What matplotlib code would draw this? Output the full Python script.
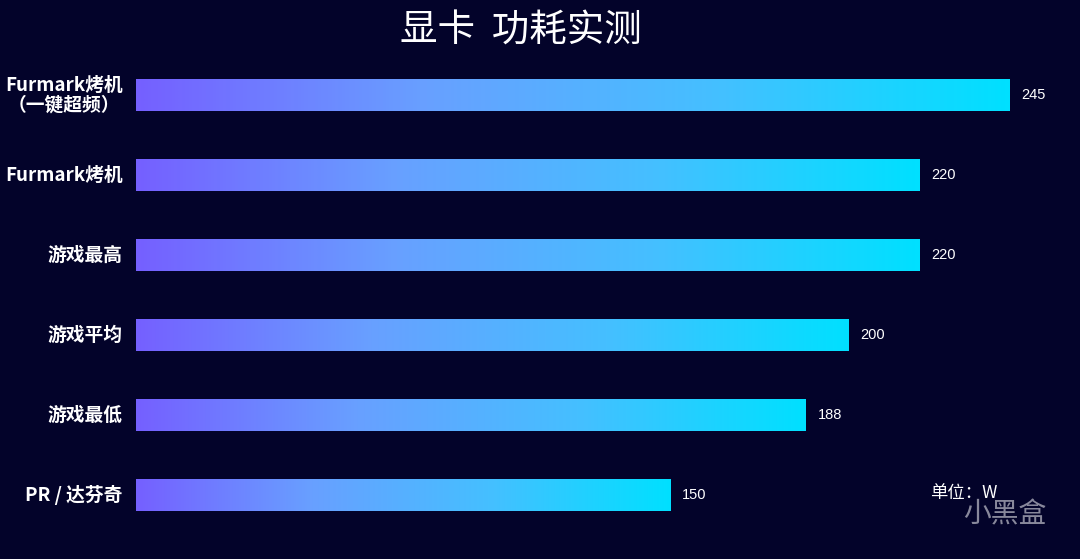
import numpy as np
import matplotlib.pyplot as plt
from matplotlib.colors import LinearSegmentedColormap

# dados
categorias = ['Furmark烤机\n（一键超频）', 'Furmark烤机', '游戏最高', '游戏平均', '游戏最低', 'PR / 达芬奇']
valores = [245, 220, 220, 200, 188, 150]
titulo = '显卡  功耗实测'
unidade = '单位：W'

fundo = '#03032a'
cmap = LinearSegmentedColormap.from_list(
    'grad', [(0, '#7560ff'), (0.33, '#68a0ff'), (0.67, '#44c0ff'), (1, '#00e0ff')])

plt.rcParams['font.family'] = ['Noto Sans CJK SC', 'DejaVu Sans']

fig = plt.figure(figsize=(10.8, 5.59), dpi=100, facecolor=fundo)
ax = fig.add_axes([136 / 1080, 24 / 559, 944 / 1080, 480 / 559])
ax.set_facecolor(fundo)

y = np.arange(len(categorias))
barras = ax.barh(y, valores, height=0.4, color='none', edgecolor='none')

grad = np.linspace(0, 1, 256).reshape(1, -1)
for b, v in zip(barras, valores):
    x0, y0, w, h = b.get_x(), b.get_y(), b.get_width(), b.get_height()
    ax.imshow(grad, cmap=cmap, aspect='auto', extent=(x0, x0 + w, y0 + h, y0),
              interpolation='bicubic', zorder=2)
    ax.text(x0 + w + 3.3, y0 + h / 2, str(v), color='white', fontsize=10.5,
            family='Liberation Sans', va='center', ha='left')

ax.set_xlim(0, 944 / (873 / 245))
ax.set_ylim(len(categorias) - 0.5, -0.5)

# rótulos das categorias
for i, c in enumerate(categorias):
    ax.text(-3.7, i, c, color='white', fontsize=13.5, fontweight='bold',
            ha='right', va='center', linespacing=1.0, multialignment='center')

for s in ax.spines.values():
    s.set_visible(False)
ax.set_xticks([])
ax.set_yticks([])

fig.text(521 / 1080, 1 - 31 / 559, titulo, color='white', fontsize=27, fontweight='medium',
         ha='center', va='center')
fig.text(930 / 1080, 1 - 493 / 559, unidade, color='white', fontsize=12.5,
         ha='left', va='center')
fig.text(963 / 1080, 1 - 514 / 559, '小黑盒', color='#a0a0b0', fontsize=20, alpha=0.85,
         ha='left', va='center')

fig.savefig('out.png', dpi=100, facecolor=fundo)
